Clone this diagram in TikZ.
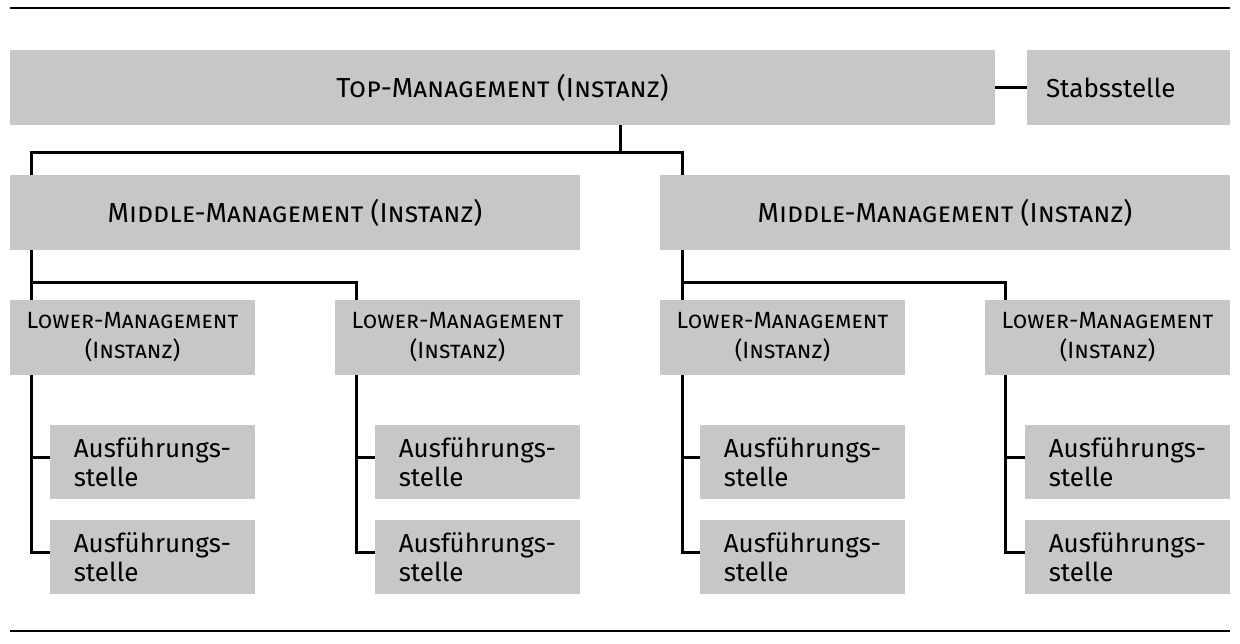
\documentclass[tikz,border=0pt]{standalone}
\usepackage{fontspec}
\setmainfont{Fira Sans}
\definecolor{boxgrey}{HTML}{C6C7C9}
\tikzset{
    box/.style = {fill=boxgrey, inner sep=0pt, minimum height=75pt, align=center},
    bigbox/.style = {box, font=\fontsize{27.5}{30}\selectfont\scshape},
    lowbox/.style = {box, minimum width=245pt, font=\fontsize{23.5}{30}\selectfont\scshape},
    stelle/.style = {box, minimum height=74pt, minimum width=205pt, align=left,
        font=\fontsize{26}{29}\selectfont},
    line/.style = {line width=3pt, line join=miter},
    rule/.style = {line width=2.5pt}
}
\begin{document}
\begin{tikzpicture}[x=1pt,y=-1pt]
    \useasboundingbox (0,0) rectangle (1240,644);
    \draw[rule] (10,8) -- (1230,8);
    \draw[rule] (10,631) -- (1230,631);
    % top level
    \node[bigbox, minimum width=985pt] (top) at (502.5,87.5) {Top-Management (Instanz)};
    \node[stelle, minimum width=203pt, minimum height=75pt, text width=165pt] (stab) at (1128.5,87.5) {Stabsstelle};
    \draw[line] (top.east) -- (stab.west);
    % middle level
    \node[bigbox, minimum width=570pt] (midL) at (295,212.5) {Middle-Management (Instanz)};
    \node[bigbox, minimum width=570pt] (midR) at (945,212.5) {Middle-Management (Instanz)};
    \coordinate (bus) at (620,153);
    \draw[line] (top.south -| bus) -- (bus);
    \draw[line] ([xshift=22pt]midL.north west) |- (bus) -| ([xshift=23pt]midR.north west);
    % lower level
    \node[lowbox] (lm1) at (132.5,337.5) {Lower-Management\\(Instanz)};
    \node[lowbox] (lm2) at (457.5,337.5) {Lower-Management\\(Instanz)};
    \node[lowbox] (lm3) at (782.5,337.5) {Lower-Management\\(Instanz)};
    \node[lowbox] (lm4) at (1107.5,337.5) {Lower-Management\\(Instanz)};
    \draw[line] ([xshift=22pt]midL.south west) -- ([xshift=22pt]lm1.north west);
    \draw[line] ([xshift=22pt]midL.south west) ++(0,32) -| ([xshift=22pt]lm2.north west);
    \draw[line] ([xshift=23pt]midR.south west) -- ([xshift=23pt]lm3.north west);
    \draw[line] ([xshift=23pt]midR.south west) ++(0,32) -| ([xshift=21pt]lm4.north west);
    % Ausfuehrungsstellen
    \node[stelle] (as11) at (152.5,462) {Ausführungs-\\stelle};
    \node[stelle] (as12) at (152.5,557) {Ausführungs-\\stelle};
    \node[stelle] (as21) at (477.5,462) {Ausführungs-\\stelle};
    \node[stelle] (as22) at (477.5,557) {Ausführungs-\\stelle};
    \node[stelle] (as31) at (802.5,462) {Ausführungs-\\stelle};
    \node[stelle] (as32) at (802.5,557) {Ausführungs-\\stelle};
    \node[stelle] (as41) at (1127.5,462) {Ausführungs-\\stelle};
    \node[stelle] (as42) at (1127.5,557) {Ausführungs-\\stelle};
    \draw[line] ([xshift=22pt]lm1.south west) |- ([yshift=5pt]as12.west);
    \draw[line] ([yshift=5pt]as11.west) -- ++(-18,0);
    \draw[line] ([xshift=22pt]lm2.south west) |- ([yshift=5pt]as22.west);
    \draw[line] ([yshift=5pt]as21.west) -- ++(-18,0);
    \draw[line] ([xshift=23pt]lm3.south west) |- ([yshift=5pt]as32.west);
    \draw[line] ([yshift=5pt]as31.west) -- ++(-17,0);
    \draw[line] ([xshift=21pt]lm4.south west) |- ([yshift=5pt]as42.west);
    \draw[line] ([yshift=5pt]as41.west) -- ++(-19,0);
\end{tikzpicture}
\end{document}
